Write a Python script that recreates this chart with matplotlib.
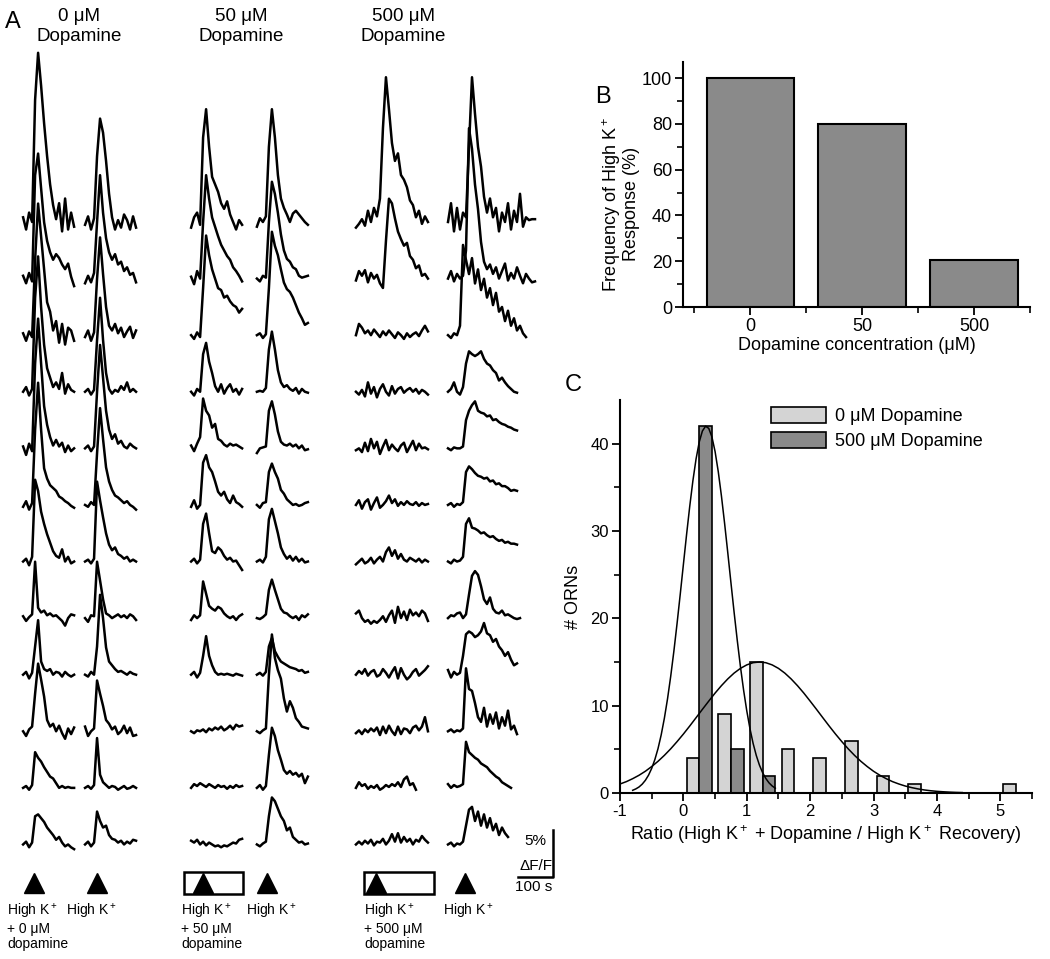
import numpy as np
import matplotlib.pyplot as plt
from matplotlib.patches import Rectangle, Patch

plt.rcParams['font.family'] = ['Liberation Sans', 'DejaVu Sans']
plt.rcParams['mathtext.fontset'] = 'custom'
plt.rcParams['mathtext.rm'] = 'Liberation Sans'
plt.rcParams['mathtext.it'] = 'Liberation Sans:italic'
plt.rcParams['axes.unicode_minus'] = False

# ---------------- panel B data ----------------
conc_labels = ['0', '50', '500']
response_freq = [100, 80, 20.5]

# ---------------- panel C data ----------------
ctrl_centers = [0.15, 0.65, 1.15, 1.65, 2.15, 2.65, 3.15, 3.65, 5.15]
ctrl_counts = [4, 9, 15, 5, 4, 6, 2, 1, 1]
da_centers = [0.35, 0.85, 1.35]
da_counts = [42, 5, 2]

# fitted curves (step 0.1 from -1.0, step 0.05 from -0.8)
ctrl_fit = [1.03, 1.30, 1.64, 2.03, 2.49, 3.03, 3.63, 4.31, 5.06, 5.88, 6.75,
            7.67, 8.62, 9.58, 10.52, 11.44, 12.29, 13.06, 13.73, 14.27, 14.67,
            14.92, 15.0, 14.92, 14.67, 14.27, 13.73, 13.06, 12.29, 11.44, 10.52,
            9.58, 8.62, 7.67, 6.75, 5.88, 5.06, 4.31, 3.63, 3.03, 2.49, 2.03,
            1.64, 1.30, 1.03, 0.80, 0.62, 0.47, 0.35, 0.26, 0.19, 0.14, 0.10,
            0.07, 0.05]
da_fit = [0.31, 0.47, 0.69, 1.01, 1.45, 2.04, 2.82, 3.83, 5.09, 6.66, 8.56,
          10.79, 13.36, 16.24, 19.39, 22.73, 26.16, 29.57, 32.81, 35.75, 38.25,
          40.19, 41.45, 42.0, 41.75, 40.78, 39.10, 36.81, 34.03, 30.89, 27.54,
          24.10, 20.71, 17.48, 14.48, 11.78, 9.41, 7.38, 5.68, 4.30, 3.19, 2.33,
          1.67, 1.17, 0.81, 0.55]

# ---------------- panel A traces (% dF/F above each row's baseline) ----------------
trace_da0 = [
    [0.5, -0.8, 1.0, 0.0, 13.0, 18.0, 14.5, 10.5, 7.0, 4.0, 1.8, 0.3, 2.0, -1.0, 2.5, -0.8, 1.0, -0.5],
    [0.3, -0.5, 0.6, -0.3, 11.0, 13.3, 9.6, 6.0, 4.0, 2.8, 2.0, 2.6, 2.2, 1.5, 1.0, 1.6, 0.2, -0.8],
    [0.2, -0.6, 0.4, -0.2, 8.0, 14.0, 10.5, 7.0, 3.5, 2.5, 0.5, 1.5, -0.8, 1.2, -1.0, 0.8, 0.5, -0.6],
    [0.0, 0.5, -0.4, 0.3, 10.0, 14.4, 9.0, 5.0, 2.5, 1.5, 0.5, 1.0, 0.3, 2.0, -0.2, 0.8, 0.2, 0.0],
    [0.2, -0.7, 0.5, -0.3, 9.0, 13.8, 9.0, 4.5, 2.5, 1.2, 0.3, 0.9, 0.2, 0.6, -0.4, 0.3, -0.3, 0.0],
    [-0.2, 0.4, -0.5, 0.2, 8.0, 13.0, 8.0, 3.9, 2.8, 2.1, 1.8, 1.5, 0.9, 0.7, 0.4, 0.2, -0.1, -0.3],
    [0.0, 0.3, -0.4, 0.5, 8.7, 7.5, 5.3, 4.0, 2.9, 2.0, 1.1, 0.6, 0.4, 1.3, 0.0, 0.5, -0.2, 0.0],
    [0.2, -0.3, 0.1, 0.4, 6.0, 1.1, 0.6, 0.8, 0.3, 0.5, 0.2, 0.3, 0.0, -0.3, -0.8, 0.0, 0.4, 0.3],
    [0.0, 0.3, -0.4, 0.2, 3.0, 5.8, 1.4, 0.6, 0.4, 0.6, 0.0, 0.3, 0.2, -0.2, 0.3, 0.0, -0.2, 0.0],
    [0.0, -0.5, 0.2, 0.5, 4.0, 7.2, 5.5, 3.7, 1.2, 0.5, 0.8, 0.0, 0.6, -0.2, -0.8, 0.3, -0.3, 0.4],
    [0.0, 0.2, -0.2, 0.3, 3.8, 3.2, 2.8, 2.2, 1.7, 1.2, 1.0, 0.5, 0.0, 0.2, 0.0, 0.1, 0.0, 0.0],
    [0.0, 0.3, -0.3, 0.2, 3.0, 3.2, 2.8, 2.4, 1.8, 1.4, 1.0, 0.5, 0.8, 0.2, -0.2, 0.0, -0.3, -0.5],
]
trace_k0 = [
    [-0.3, 0.6, -0.8, 0.4, 7.0, 11.0, 9.5, 6.5, 3.0, 0.5, -0.8, 0.2, -0.6, 0.8, 0.2, -0.8, 0.6, -0.6],
    [-0.5, 0.3, -0.4, 0.6, 6.0, 11.0, 7.0, 4.3, 2.8, 2.0, 2.6, 1.5, 1.8, 0.8, 1.2, 0.4, 0.6, -0.4],
    [-0.2, 0.5, -0.6, 0.3, 6.0, 10.4, 6.5, 3.0, 1.0, 0.5, 1.2, 0.2, 0.8, -0.2, 0.4, 0.9, -0.3, 0.5],
    [0.0, 0.3, -0.3, 0.2, 5.5, 10.0, 5.5, 2.0, 0.3, -0.2, 0.2, 0.0, 0.6, 0.2, 1.0, 0.0, 0.3, 0.0],
    [0.0, 0.3, -0.3, 0.2, 6.0, 11.0, 7.5, 4.0, 2.0, 1.0, 1.5, 0.5, 0.8, 0.2, 0.0, 0.5, 0.2, 0.0],
    [0.0, -0.2, 0.3, 0.0, 5.5, 10.3, 7.0, 4.0, 2.5, 1.6, 1.0, 0.8, 0.5, 0.2, 0.4, 0.0, -0.2, -0.5],
    [0.0, 0.2, -0.2, 0.3, 8.5, 6.5, 4.7, 3.0, 1.8, 1.2, 1.5, 0.8, 0.6, 0.3, 0.5, 0.0, 0.2, 0.0],
    [0.0, -0.4, 0.3, 0.2, 6.0, 4.0, 2.0, 0.5, 0.3, 0.0, 0.2, 0.4, 0.1, 0.3, 0.0, 0.4, 0.2, -0.2],
    [0.0, -0.2, 0.3, 0.0, 3.0, 8.5, 6.0, 2.9, 1.4, 1.0, 0.6, 0.3, 0.4, 0.2, 0.0, 0.3, 0.1, 0.0],
    [0.5, -0.5, 0.0, 0.3, 5.4, 4.0, 2.7, 1.2, 0.8, 0.2, 0.5, -0.3, 0.0, 0.6, -0.2, 0.4, -0.5, -0.4],
    [0.0, 0.2, -0.1, 0.3, 5.3, 1.4, 0.6, 0.3, 0.0, 0.2, 0.1, -0.2, 0.0, 0.2, -0.1, 0.0, 0.2, 0.0],
    [0.0, 0.3, -0.2, 0.2, 3.5, 2.5, 1.8, 2.0, 1.0, 0.6, 0.5, 0.2, 0.4, 0.0, 0.3, 0.1, 0.5, 0.4],
]
trace_da50 = [
    [-0.6, 0.5, 1.0, -0.3, 9.0, 12.0, 8.0, 4.8, 4.0, 3.2, 2.0, 1.4, 2.2, 0.8, 0.0, -0.8, 0.2, -0.3],
    [0.2, -0.6, 0.8, 0.0, 6.0, 11.0, 8.5, 6.5, 5.5, 4.5, 3.6, 3.0, 2.4, 2.0, 1.2, 0.8, 0.3, -0.3],
    [0.0, -0.4, 0.3, -0.2, 5.0, 10.6, 8.5, 7.0, 6.0, 5.0, 4.8, 4.0, 4.2, 3.6, 3.2, 3.0, 2.4, 2.8],
    [0.0, -0.4, 0.3, 0.0, 4.0, 5.2, 3.2, 2.0, 0.6, 0.0, 0.8, -0.2, 0.4, 0.8, 0.0, 0.3, -0.3, 0.3],
    [0.3, -0.3, 0.5, 1.2, 5.3, 4.0, 3.5, 2.2, 2.6, 1.0, 0.8, 0.4, 0.2, 0.5, 0.3, 0.4, 0.2, 0.0],
    [-0.2, 0.5, -0.4, 0.0, 4.5, 5.3, 4.0, 3.5, 2.5, 1.4, 1.0, 1.4, 0.6, 0.2, 1.0, 0.3, 0.1, -0.2],
    [0.0, 0.3, -0.2, 0.2, 4.0, 5.1, 3.0, 1.1, 0.9, 1.5, 1.2, 0.6, 0.2, 0.4, 0.0, 0.1, -0.4, -0.9],
    [-0.2, 0.3, 0.0, 0.3, 3.9, 2.6, 1.3, 1.0, 0.8, 1.2, 1.0, 0.5, 0.2, 0.0, 0.2, -0.2, 0.2, 0.4],
    [0.0, 0.3, -0.3, 0.2, 2.0, 4.1, 2.0, 1.0, 0.3, 0.0, 0.1, 0.0, 0.1, 0.0, -0.1, 0.1, 0.0, -0.1],
    [0.0, -0.2, 0.1, 0.0, 0.2, -0.1, 0.3, 0.1, 0.4, 0.2, 0.5, 0.1, 0.3, 0.6, 0.2, 0.7, 0.5, 0.6],
    [0.0, 0.4, 0.2, 0.5, 0.3, 0.1, 0.4, 0.2, 0.0, 0.3, 0.1, 0.2, -0.1, 0.2, 0.0, 0.3, 0.1, 0.2],
    [0.4, 0.2, 0.5, 0.0, 0.3, -0.1, 0.2, 0.0, -0.2, -0.1, -0.3, -0.1, -0.2, 0.0, 0.2, 0.1, 0.5, 0.6],
]
trace_k50 = [
    [-0.5, 0.4, 0.0, 0.6, 8.0, 12.0, 9.0, 5.0, 2.5, 1.5, 0.8, 0.0, 0.9, 1.2, 0.8, 0.4, 0.0, -0.3],
    [0.0, -0.3, 0.3, 0.1, 6.0, 10.3, 9.0, 7.0, 4.7, 3.0, 2.1, 1.8, 1.2, 1.0, 0.3, 0.1, 0.2, 0.3],
    [0.0, 0.2, -0.3, 0.1, 5.0, 11.0, 9.5, 8.5, 7.0, 5.6, 4.9, 4.6, 4.0, 3.2, 2.4, 1.8, 1.1, 1.3],
    [0.0, 0.1, 0.0, 0.4, 4.5, 6.4, 4.5, 2.3, 1.0, 0.5, 0.7, 0.3, 0.1, 0.4, -0.2, 0.3, 0.0, -0.1],
    [-0.5, 0.0, 0.1, 0.2, 4.0, 5.0, 3.6, 1.8, 0.7, 0.4, 0.3, 0.5, 0.2, 0.4, 0.0, 0.3, -0.2, -0.1],
    [0.0, -0.3, 0.2, 0.3, 3.5, 4.4, 3.5, 2.8, 1.6, 1.2, 0.6, 0.3, 0.0, 0.1, -0.1, 0.0, 0.2, 0.3],
    [0.0, 0.2, -0.1, 0.5, 4.5, 5.6, 4.3, 3.0, 1.5, 0.8, 0.3, 0.6, 0.1, 0.5, 0.0, 0.3, -0.1, 0.0],
    [0.0, -0.1, 0.1, 0.4, 3.0, 4.1, 3.0, 2.0, 1.0, 0.6, 0.5, 0.2, 0.0, 0.2, -0.2, 0.3, 0.1, 0.4],
    [0.0, 0.2, -0.1, 0.3, 3.0, 3.9, 2.5, 1.9, 1.4, 1.2, 1.0, 0.8, 0.7, 0.6, 0.4, 0.5, 0.2, 0.3],
    [0.0, -0.2, 0.1, 0.3, 6.0, 10.3, 7.8, 6.5, 5.6, 3.5, 2.1, 3.2, 2.5, 1.4, 1.0, 0.5, 0.4, 0.3],
    [0.0, 0.3, -0.2, 0.2, 3.5, 6.4, 5.5, 4.0, 3.0, 1.9, 1.5, 1.8, 1.4, 1.6, 1.2, 1.5, 0.5, 1.2],
    [0.0, -0.2, 0.1, 0.3, 3.0, 5.0, 4.6, 3.8, 3.0, 2.5, 1.5, 1.8, 0.8, 0.5, 0.2, 0.3, 0.0, 0.1],
]
trace_da500 = [
    [-0.6, -0.2, 0.3, -0.4, 1.2, 0.0, 1.5, 0.6, 2.5, 10.0, 15.4, 12.0, 8.4, 6.5, 7.3, 5.0, 4.5, 3.7, 2.3, 1.8, 0.5, 1.2, -0.2, 0.6, 0.0],
    [-0.2, 0.8, 0.3, 0.9, -0.4, 0.6, 0.0, 0.4, -0.5, -1.0, 4.0, 8.5, 8.0, 6.4, 5.0, 4.2, 3.5, 3.8, 2.4, 2.0, 1.1, 1.4, 0.3, 0.5, 0.0],
    [0.0, 1.2, 0.8, 0.2, 0.5, 0.0, 0.6, 0.2, -0.2, 0.4, 0.0, 0.5, 0.1, -0.3, 0.3, 0.0, -0.4, 0.2, -0.2, 0.1, 0.3, -0.1, 0.5, 1.0, 0.4],
    [0.0, -0.3, 0.2, -0.5, 1.0, -0.2, 0.5, -0.6, 0.3, 0.8, 0.0, -0.4, 0.6, -0.2, 0.3, 0.5, -0.1, 0.2, 0.4, 0.0, 0.3, -0.2, 0.2, 0.0, -0.3],
    [-0.2, 0.0, -0.4, 0.6, -0.3, 1.0, 0.0, 0.7, -0.6, 0.2, 0.9, -0.2, 0.4, 0.0, -0.3, 0.3, 0.6, -0.4, 0.2, 0.8, -0.2, 0.5, 0.0, 0.1, -0.1],
    [0.0, 0.5, -0.4, 0.3, 0.6, -0.5, 0.2, 0.8, -0.3, 0.0, 0.4, 1.0, 0.2, 0.6, -0.1, 0.3, 0.0, 0.4, 0.1, 0.0, 0.3, -0.1, 0.2, 0.0, 0.1],
    [-0.3, 0.0, 0.3, -0.2, 0.0, 0.4, -0.2, 0.2, 0.5, 0.0, 1.0, 1.5, 0.6, 1.2, 0.3, 0.8, 0.2, 0.0, 0.4, 0.2, 0.0, 0.3, -0.1, 0.2, 0.0],
    [0.5, 0.8, 0.0, -0.4, -0.2, -0.6, -0.3, -0.5, -0.2, 0.2, -0.4, 0.3, 0.8, -0.5, 1.2, 0.0, 0.7, -0.2, 0.9, 0.3, 0.6, 0.2, 0.8, 0.5, -0.3],
    [0.0, 0.4, 0.1, 0.6, -0.1, 0.3, 0.5, -0.2, 0.0, 0.6, 0.2, -0.3, 0.3, 0.8, -0.4, 0.7, 0.0, -0.5, -0.2, 0.3, 0.6, -0.1, 0.2, 0.5, 0.9],
    [-0.2, 0.1, -0.3, 0.2, -0.1, 0.3, 0.0, 0.4, -0.4, 0.5, -0.2, 0.6, 0.0, -0.4, 0.5, -0.3, 0.3, 0.2, -0.2, 0.4, 0.6, 0.1, 0.5, 1.5, 0.0],
    [0.0, 0.6, 0.2, 0.4, -0.1, 0.2, 0.0, 0.3, -0.2, 0.0, 0.3, 0.1, 0.4, 0.2, 0.6, 0.1, 0.9, 1.2, 0.3, 0.5, -0.2],
    [0.0, 0.3, 0.0, 0.4, 0.1, 0.5, -0.1, 0.3, 0.2, 0.6, 0.0, 0.4, 1.1, 0.3, 1.2, 0.2, 0.8, 0.3, 0.6, 0.0, 0.5, 0.3, 0.9, 0.5, 0.2],
]
trace_k500 = [
    [0.0, 2.0, -1.0, 1.5, -0.8, 1.0, 0.5, 8.0, 15.4, 11.5, 8.0, 5.9, 2.7, 1.0, 2.5, 0.5, 1.5, -1.0, 1.0, 0.0, 2.0, -0.8, 1.2, 0.0, 3.0, -0.5, 0.5, 0.2, 0.3, 0.3],
    [0.0, 0.8, -0.3, 0.5, 0.0, 0.3, 3.0, 16.0, 13.8, 10.0, 7.4, 3.9, 1.8, 1.0, 1.5, 0.5, 1.2, 0.0, 0.8, 1.6, -0.2, 0.6, 0.0, 1.2, 0.3, -0.5, 0.5, 0.0, -0.4, -0.3],
    [0.0, -0.3, 0.2, 0.0, 1.0, 9.6, 8.0, 6.5, 8.2, 5.5, 7.0, 4.8, 6.0, 4.0, 5.0, 3.2, 4.5, 2.5, 3.0, 1.5, 2.6, 1.0, 1.8, 0.5, 1.0, 0.2, -0.2],
    [0.0, 0.3, 1.0, 0.0, -0.3, 0.5, 3.0, 4.3, 4.0, 3.8, 4.0, 4.3, 3.5, 3.0, 2.8, 2.3, 2.0, 1.2, 1.5, 1.0, 0.6, 0.3, 0.0, -0.1],
    [0.0, -0.2, 0.1, 0.0, 0.0, 0.2, 3.0, 4.0, 4.6, 5.0, 4.0, 3.8, 3.7, 3.4, 3.5, 3.0, 3.1, 2.8, 2.6, 2.5, 2.3, 2.2, 2.0, 1.9],
    [0.0, 0.2, -0.2, 0.1, 0.0, 0.3, 3.5, 4.1, 3.8, 3.4, 3.1, 3.0, 2.8, 2.9, 2.5, 2.6, 2.2, 2.3, 2.0, 2.0, 1.8, 1.5, 1.6, 1.5],
    [0.0, -0.2, 0.2, 0.0, 0.1, 0.5, 4.0, 4.6, 3.6, 3.5, 3.3, 3.0, 3.1, 2.8, 2.6, 2.7, 2.4, 2.2, 2.3, 2.0, 2.1, 1.9, 1.9, 1.8],
    [0.0, 0.3, 0.2, 0.5, 0.6, 0.0, 0.4, 2.5, 4.5, 5.0, 4.6, 3.4, 2.0, 1.5, 2.2, 1.0, 0.6, 0.5, 0.8, 0.3, 0.4, 0.2, 0.0, -0.1, 0.0],
    [0.5, -0.3, 0.3, 0.0, 0.2, 2.0, 4.3, 4.6, 4.4, 4.0, 4.2, 4.6, 5.5, 4.4, 4.2, 3.5, 3.8, 3.0, 2.6, 2.0, 2.4, 1.6, 1.0, 1.2],
    [0.0, 0.2, -0.1, 0.1, 0.0, 0.3, 6.7, 4.5, 4.3, 3.0, 1.5, 1.0, 2.5, 0.5, 1.8, 0.8, 2.0, 0.3, 1.5, 0.6, 2.2, 0.2, 0.6, -0.3],
    [0.4, 0.0, 0.3, 0.1, 0.2, 0.4, 4.9, 3.8, 3.5, 3.2, 3.0, 2.6, 2.4, 2.2, 1.8, 1.5, 1.2, 1.0, 0.6, 0.4, 0.2, 0.0],
    [0.0, 0.2, -0.2, 0.1, 0.0, 0.3, 2.0, 3.7, 4.0, 2.5, 3.5, 2.0, 3.2, 1.8, 2.8, 1.5, 2.2, 1.0, 1.8, 1.2, 0.8],
]

col_traces = [trace_da0, trace_k0, trace_da50, trace_k50, trace_da500, trace_k500]
col_start_s = [66, 243, 546, 734, 1017, 1280]      # trace start times (s)
stim_times = [97, 277, 580, 763, 1074, 1329]        # arrowheads (s)
bath_windows = [(526, 694), (1040, 1240)]           # dopamine bath (s)

group_titles = ['0 μM\nDopamine', '50 μM\nDopamine', '500 μM\nDopamine']
stim_labels = ['High K$^+$\n+ 0 μM\ndopamine', 'High K$^+$',
               'High K$^+$\n+ 50 μM\ndopamine', 'High K$^+$',
               'High K$^+$\n+ 500 μM\ndopamine', 'High K$^+$']

# ---------------- layout ----------------
W, H = 1050, 959
fig = plt.figure(figsize=(W / 100, H / 100), dpi=100)
PX_PER_S = 0.35     # horizontal scale of panel A
PX_PER_PCT = 9.4    # vertical scale of panel A
DT = 3 / PX_PER_S   # sampling interval of the traces
ROW_STEP = 6.02
TOP_BASE = -222 / PX_PER_PCT

axA = fig.add_axes([0, 0, 560 / W, 1])
axA.set_xlim(0, 560 / PX_PER_S)
axA.set_ylim(-H / PX_PER_PCT, 0)
axA.axis('off')

for t0, traces in zip(col_start_s, col_traces):
    for r, vals in enumerate(traces):
        v = np.array(vals)
        t = t0 + DT * np.arange(len(v))
        axA.plot(t, TOP_BASE - r * ROW_STEP + v, color='black', lw=1.8,
                 solid_joinstyle='round')

y_tri = -883 / PX_PER_PCT
axA.plot(stim_times, [y_tri] * len(stim_times), linestyle='none', marker='^',
         markersize=14, color='black')
for (a, b) in bath_windows:
    axA.add_patch(Rectangle((a, -894 / PX_PER_PCT), b - a, 22 / PX_PER_PCT,
                            fill=False, edgecolor='black', lw=1.8))

label_x = [7, 66, 181, 246, 364, 443]
for lx, txt in zip(label_x, stim_labels):
    axA.text(lx / PX_PER_S, -902 / PX_PER_PCT, txt, fontsize=10, va='top',
             ha='left', linespacing=1.1)

for cx, txt in zip([79, 241, 403], group_titles):
    axA.text(cx / PX_PER_S, -8 / PX_PER_PCT, txt, fontsize=13.5, va='top',
             ha='center', linespacing=1.25)

# scale bar: 5 % dF/F and 100 s
sb_x, sb_y = 553 / PX_PER_S, -877 / PX_PER_PCT
axA.plot([sb_x - 100, sb_x, sb_x], [sb_y, sb_y, sb_y + 5], color='black', lw=1.8)
axA.text(sb_x - 50, sb_y + 3.8, '5%', fontsize=11, ha='center', va='center')
axA.text(sb_x - 50, sb_y + 1.2, 'ΔF/F', fontsize=11, ha='center', va='center')
axA.text(sb_x - 55, sb_y - 0.3, '100 s', fontsize=11, ha='center', va='top')

fig.text(5 / W, 1 - 22 / H, 'A', fontsize=17, va='center')
fig.text(595 / W, 1 - 97 / H, 'B', fontsize=17, va='center')
fig.text(565 / W, 1 - 385 / H, 'C', fontsize=17, va='center')

# ---------------- panel B ----------------
axB = fig.add_axes([683 / W, 1 - 307 / H, (1030 - 683) / W, (307 - 62) / H])
xb = np.arange(len(conc_labels))
axB.bar(xb, response_freq, width=0.78, color='#8a8a8a', edgecolor='black', lw=1.5)
axB.set_xlim(-0.6, 2.5)
axB.set_ylim(0, 107)
axB.set_xticks(xb)
axB.set_xticklabels(conc_labels)
axB.set_xticks([-0.5, 0.5, 1.5, 2.5], minor=True)
axB.set_yticks([0, 20, 40, 60, 80, 100])
axB.set_yticks([10, 30, 50, 70, 90], minor=True)
axB.set_xlabel('Dopamine concentration (μM)', fontsize=13, labelpad=1)
axB.set_ylabel('Frequency of High K$^+$\nResponse (%)', fontsize=13,
               linespacing=1.0)
axB.yaxis.set_label_coords(-0.125, 0.42)
for s in ['top', 'right']:
    axB.spines[s].set_visible(False)
for s in ['left', 'bottom']:
    axB.spines[s].set_linewidth(1.5)
axB.tick_params(labelsize=13, width=1.3, length=6, pad=2)
axB.tick_params(which='minor', width=1.2, length=4)

# ---------------- panel C ----------------
axC = fig.add_axes([620 / W, 1 - 793 / H, (1032 - 620) / W, (793 - 400) / H])
axC.bar(ctrl_centers, ctrl_counts, width=0.2, color='#d4d4d4', edgecolor='black', lw=1.2)
axC.bar(da_centers, da_counts, width=0.2, color='#8a8a8a', edgecolor='black', lw=1.2)
xc = np.linspace(-1.0, 4.4, len(ctrl_fit))
xd = np.linspace(-0.8, 1.45, len(da_fit))
axC.plot(xc, ctrl_fit, color='black', lw=1.1)
axC.plot(xd, da_fit, color='black', lw=1.1)
axC.set_xlim(-1, 5.5)
axC.set_ylim(0, 45)
axC.set_xticks(range(-1, 6))
axC.set_xticks(np.arange(-0.5, 5.6, 1.0), minor=True)
axC.set_yticks([0, 10, 20, 30, 40])
axC.set_yticks([5, 15, 25, 35], minor=True)
axC.set_xlabel('Ratio (High K$^+$ + Dopamine / High K$^+$ Recovery)', fontsize=13, labelpad=3)
axC.set_ylabel('# ORNs', fontsize=13, labelpad=6)
for s in ['top', 'right']:
    axC.spines[s].set_visible(False)
for s in ['left', 'bottom']:
    axC.spines[s].set_linewidth(1.5)
axC.tick_params(labelsize=12, width=1.3, length=6, pad=2)
axC.tick_params(which='minor', width=1.2, length=4)
handles = [Patch(facecolor='#d4d4d4', edgecolor='black', lw=1.2, label='0 μM Dopamine'),
           Patch(facecolor='#8a8a8a', edgecolor='black', lw=1.2, label='500 μM Dopamine')]
axC.legend(handles=handles, loc='upper left', bbox_to_anchor=(0.35, 1.0),
           frameon=False, fontsize=13, handlelength=3.0, handleheight=1.0,
           handletextpad=0.5, labelspacing=0.35, borderaxespad=0)

fig.savefig('out.png', dpi=100)
